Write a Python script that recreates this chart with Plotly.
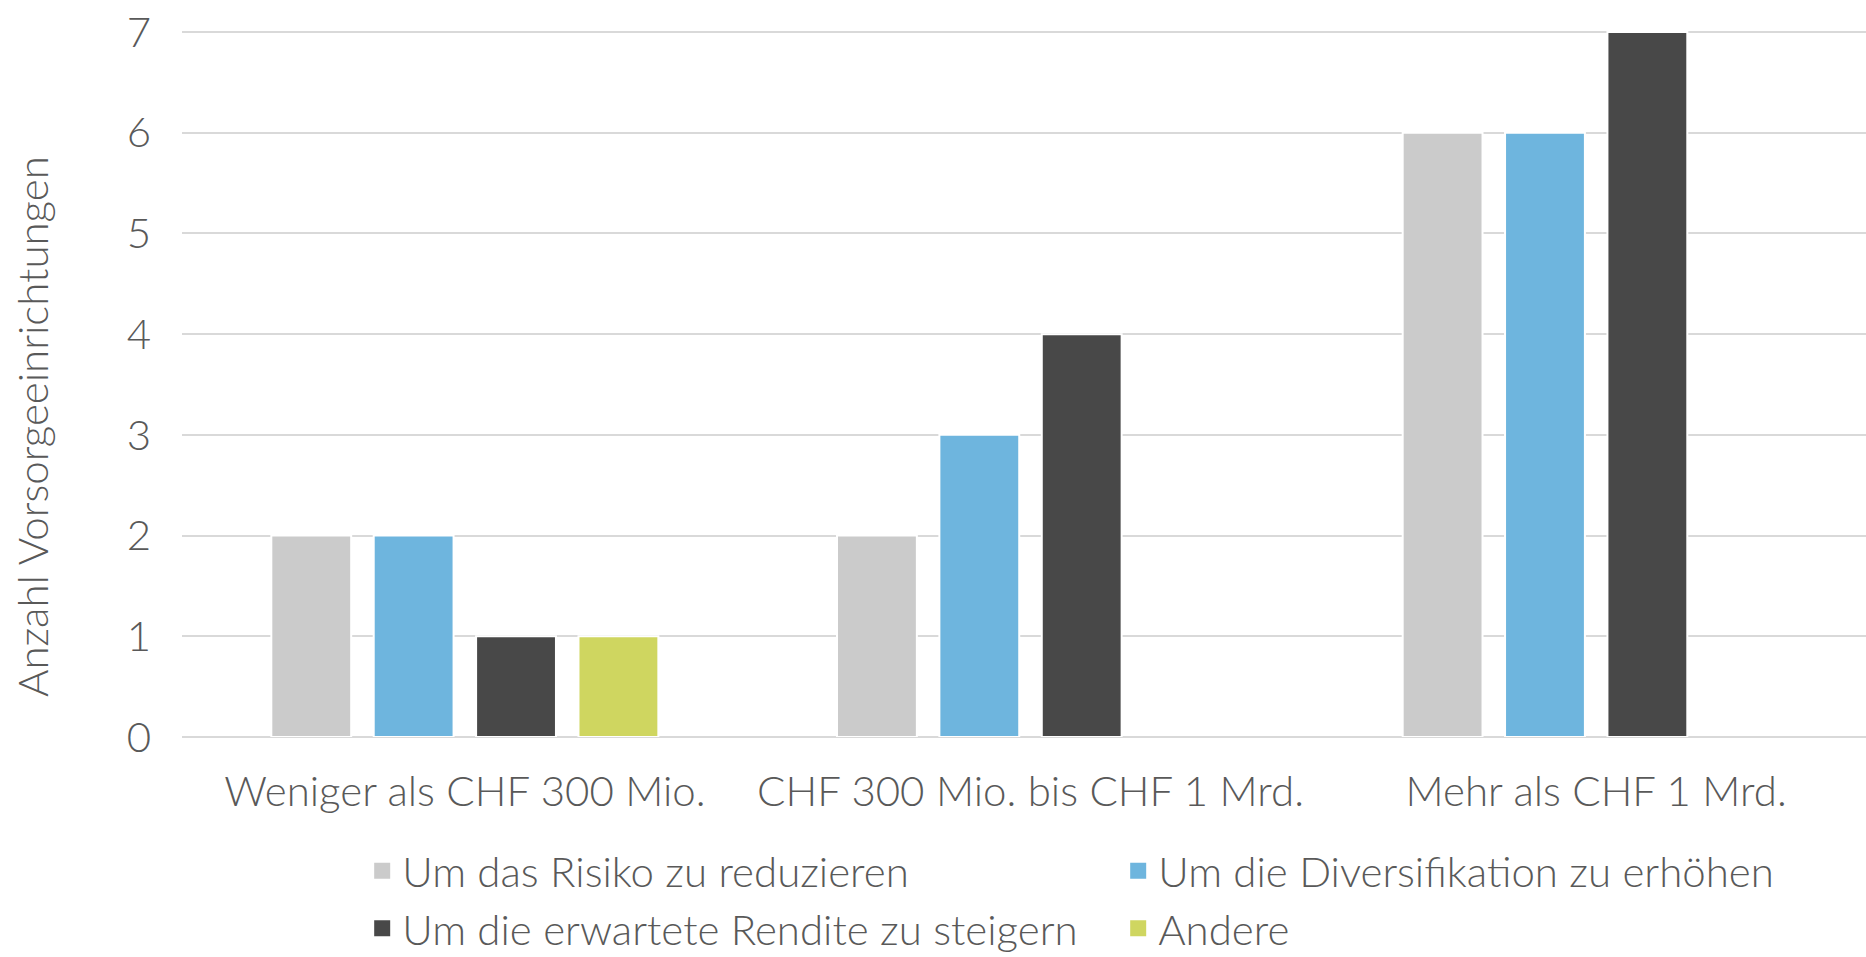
import plotly.graph_objects as go

categories = ["Weniger als CHF 300 Mio.", "CHF 300 Mio. bis CHF 1 Mrd.", "Mehr als CHF 1 Mrd."]
series_names = [
    "Um das Risiko zu reduzieren",
    "Um die Diversifikation zu erhöhen",
    "Um die erwartete Rendite zu steigern",
    "Andere",
]
risiko = [2, 2, 6]
diversifikation = [2, 3, 6]
rendite = [1, 4, 7]
andere = [1, None, None]
colors = ["#CBCBCB", "#6EB5DE", "#484848", "#CFD660"]
y_title = "Anzahl Vorsorgeeinrichtungen"

FONT = "Lato"
TXT = "#595959"
FS = 42

fig = go.Figure()
for name, vals, col in zip(series_names, [risiko, diversifikation, rendite, andere], colors):
    fig.add_trace(go.Bar(
        x=categories, y=vals, name=name, legendgroup=name, showlegend=False,
        marker=dict(color=col, line=dict(color="white", width=2)),
    ))
    # legend swatch (larger square, like the original)
    fig.add_trace(go.Scatter(
        x=[None], y=[None], mode="markers", name=name, legendgroup=name,
        marker=dict(symbol="square", size=18, color=col),
        showlegend=True, hoverinfo="skip",
    ))

W, H = 1866, 957
L, R, T, B = 182, 0, 29, 220

fig.update_layout(
    width=W, height=H,
    margin=dict(l=L, r=R, t=T, b=B, pad=0, autoexpand=False),
    plot_bgcolor="white", paper_bgcolor="white",
    barmode="group", bargap=0.276, bargroupgap=0.22,
    font=dict(family=FONT, size=FS, color=TXT, weight=300),
    showlegend=True,
    legend=dict(
        orientation="h", x=0.107, y=-0.141, xanchor="left", yanchor="top",
        entrywidth=711, entrywidthmode="pixels", itemsizing="trace",
        font=dict(family=FONT, size=FS, color=TXT, weight=300),
        traceorder="normal", bgcolor="rgba(0,0,0,0)",
    ),
    xaxis=dict(
        type="category", range=[-0.5, 2.477], showgrid=False, showline=False,
        ticks="", ticklabelstandoff=26, automargin=False,
        tickfont=dict(family=FONT, size=FS, color=TXT, weight=300),
    ),
    yaxis=dict(
        range=[0, 7.03], tickvals=[0, 1, 2, 3, 4, 5, 6, 7],
        showgrid=True, gridcolor="#D9D9D9", gridwidth=2,
        zeroline=True, zerolinecolor="#D9D9D9", zerolinewidth=2,
        showline=False, ticks="", ticklabelstandoff=30, automargin=False,
        ticklabeloverflow="allow",
        tickfont=dict(family=FONT, size=FS, color=TXT, weight=300),
    ),
    annotations=[dict(
        text=y_title, textangle=-90, xref="paper", yref="paper",
        x=(32 - L) / (W - L - R), y=(H - B - 427) / (H - T - B),
        xanchor="center", yanchor="middle", showarrow=False,
        font=dict(family=FONT, size=FS, color=TXT, weight=300),
    )],
)

fig.write_html(
    "out.html",
    config={"displayModeBar": False},
    post_script="document.body.style.margin='0';",
)
